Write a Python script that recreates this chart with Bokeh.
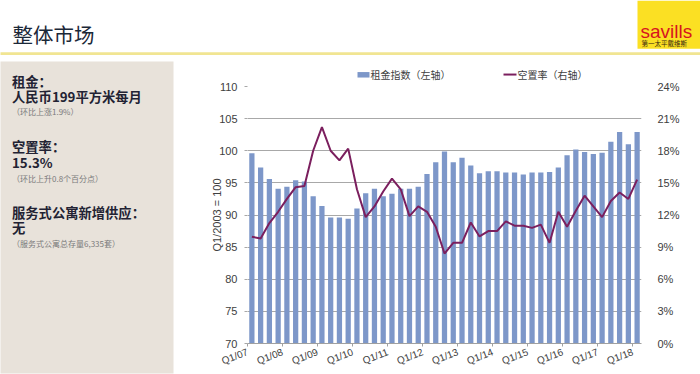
from bokeh.plotting import figure
from bokeh.models import Range1d, LinearAxis, FixedTicker, PrintfTickFormatter
from bokeh.core.properties import value
from bokeh.embed import file_html
from bokeh.resources import INLINE

# ---------------- data ----------------
quarters = [f"Q{q}/{y:02d}" for y in range(7, 19) for q in range(1, 5)][:45]
rent_index = [99.6, 97.4, 95.6, 94.1, 94.4, 95.4, 95.2, 92.9, 91.4, 89.6, 89.6, 89.4,
              91.0, 93.4, 94.1, 92.9, 93.3, 94.1, 94.1, 94.4, 96.4, 98.2, 99.9, 98.2,
              98.9, 97.7, 96.5, 96.8, 96.8, 96.6, 96.6, 96.3, 96.6, 96.6, 96.7, 97.4,
              99.3, 100.2, 99.8, 99.5, 99.7, 101.4, 102.9, 101.0, 102.9]
vacancy = [9.97, 9.8, 11.25, 12.3, 13.5, 14.6, 14.7, 18.0, 20.2, 18.0, 17.1, 18.2,
           14.4, 11.8, 12.8, 14.2, 15.4, 14.4, 11.9, 12.8, 12.3, 10.9, 8.4, 9.4,
           9.4, 11.3, 10.0, 10.5, 10.5, 11.4, 11.0, 11.0, 10.8, 11.1, 9.4, 12.3,
           10.9, 12.4, 13.8, 12.8, 11.8, 13.3, 14.1, 13.5, 15.3]
tick_labels = ["Q1/07", "Q1/08", "Q1/09", "Q1/10", "Q1/11", "Q1/12",
               "Q1/13", "Q1/14", "Q1/15", "Q1/16", "Q1/17", "Q1/18"]
left_ticks = [70, 75, 80, 85, 90, 95, 100, 105, 110]
right_ticks = [0, 3, 6, 9, 12, 15, 18, 21, 24]
series_names = ["租金指数（左轴）", "空置率（右轴）"]

title_text = "整体市场"
panel_lines = [
    ("租金：", "bold"), ("人民币199平方米每月", "bold"), ("（环比上涨1.9%）", "small"),
    ("空置率：", "bold"), ("15.3%", "bold"), ("（环比上升0.8个百分点）", "small"),
    ("服务式公寓新增供应：", "bold"), ("无", "bold"), ("（服务式公寓总存量6,335套）", "small"),
]
panel_y = [80.5, 96.5, 111, 146.5, 162, 178, 212.5, 228, 243.5]

CJK = "Noto Sans CJK SC"
LAT = "Liberation Sans"

BAR_COLOR = "#7d97c9"
LINE_COLOR = "#7b1f5e"

# page geometry (pixels); chart plot area
W, H = 700, 374
FX0, FX1, FY0, FY1 = 247, 641, 86, 344

p = figure(width=W, height=H, x_range=Range1d(0, len(quarters)), y_range=Range1d(70, 110),
           output_backend="svg", toolbar_location=None, title_location=None,
           min_border_left=FX0, min_border_right=W - FX1,
           min_border_top=FY0, min_border_bottom=H - FY1)
p.outline_line_color = None
p.border_fill_color = "white"
p.background_fill_color = "white"
p.extra_y_ranges = {"vac": Range1d(0, 24), "py": Range1d(FY1, FY0)}
p.extra_x_ranges = {"px": Range1d(FX0, FX1)}

# ---------------- chart ----------------
xs = [i + 0.5 for i in range(len(quarters))]
bars = p.vbar(x=xs, top=rent_index, bottom=70, width=0.6, fill_color=BAR_COLOR, line_color=None)
ln = p.line(x=xs, y=vacancy, y_range_name="vac", line_color=LINE_COLOR, line_width=2)

p.xgrid.visible = False
p.ygrid.ticker = FixedTicker(ticks=left_ticks)
p.ygrid.grid_line_color = "#a8a8a8"
p.ygrid.grid_line_width = 1

ya = p.yaxis[0]
ya.ticker = FixedTicker(ticks=left_ticks)
ya.axis_label = "Q1/2003 = 100"
ya.axis_label_text_font = LAT
ya.axis_label_text_font_size = "11px"
ya.axis_label_text_font_style = "normal"
ya.axis_label_text_color = "#404040"
ya.axis_label_standoff = -7
ya.axis_line_color = None
ya.major_tick_line_color = "#a8a8a8"
ya.major_tick_out = 3
ya.major_tick_in = 0
ya.minor_tick_line_color = None
ya.major_label_standoff = 7
ya.major_label_text_font = LAT
ya.major_label_text_font_size = "11px"
ya.major_label_text_color = "#404040"

ra = LinearAxis(y_range_name="vac", ticker=FixedTicker(ticks=right_ticks),
                formatter=PrintfTickFormatter(format="%d%%"))
ra.axis_line_color = None
ra.major_tick_line_color = None
ra.minor_tick_line_color = None
ra.major_label_standoff = 10
ra.major_label_text_font = LAT
ra.major_label_text_font_size = "11px"
ra.major_label_text_color = "#404040"
p.add_layout(ra, "right")

xa = p.xaxis[0]
xa.ticker = FixedTicker(ticks=[4 * i for i in range(len(tick_labels))])
xa.major_label_overrides = {4 * i: t for i, t in enumerate(tick_labels)}
xa.major_label_orientation = 0.37
xa.major_label_standoff = 5
xa.major_label_text_font = LAT
xa.major_label_text_font_size = "10px"
xa.major_label_text_color = "#404040"
xa.axis_line_color = "#a0a0a0"
xa.major_tick_line_color = "#a0a0a0"
xa.major_tick_out = 3
xa.major_tick_in = 0
xa.minor_tick_line_color = None

# ---------------- page furniture (pixel coordinates, drawn outside the plot area) ----------------
PX = dict(x_range_name="px", y_range_name="py", level="overlay")


def box(l, r, t, b, color):
    p.quad(left=[l], right=[r], top=[t], bottom=[b], fill_color=color, line_color=None, **PX)


def txt(x, y, s, font, size, color, style="normal"):
    p.text(x=[x], y=[y], text=[s], text_font=value(font), text_font_size=size,
           text_color=color, text_font_style=style, text_baseline="middle",
           text_align="left", **PX)


box(0, 173, 61, 374, "#e8e2da")        # left info panel
box(0, 700, 51.5, 54.5, "#f1e592")     # yellow rule under the header
box(637, 700, 0, 48, "#fbe023")        # logo box

txt(12, 33, title_text, CJK, "20.5px", "#1b2838")
txt(640, 31, "savills", LAT, "19px", "#d7141f")
txt(641, 42.5, "第一太平戴维斯", CJK, "6.5px", "#3a2a10")
for (s, kind), yy in zip(panel_lines, panel_y):
    if kind == "bold":
        txt(11.5, yy, s, CJK, "13.3px", "#222233", "bold")
    else:
        txt(11.5, yy, s, CJK, "8px", "#7a7a7a")

# legend (above the plot area)
box(357, 369, 71.5, 77, BAR_COLOR)
txt(370, 74, series_names[0], CJK, "10px", "#404040")
p.line(x=[503, 516], y=[74, 74], line_color=LINE_COLOR, line_width=2, **PX)
txt(517, 74, series_names[1], CJK, "10px", "#404040")

open("out.html", "w").write(file_html(p, INLINE))
